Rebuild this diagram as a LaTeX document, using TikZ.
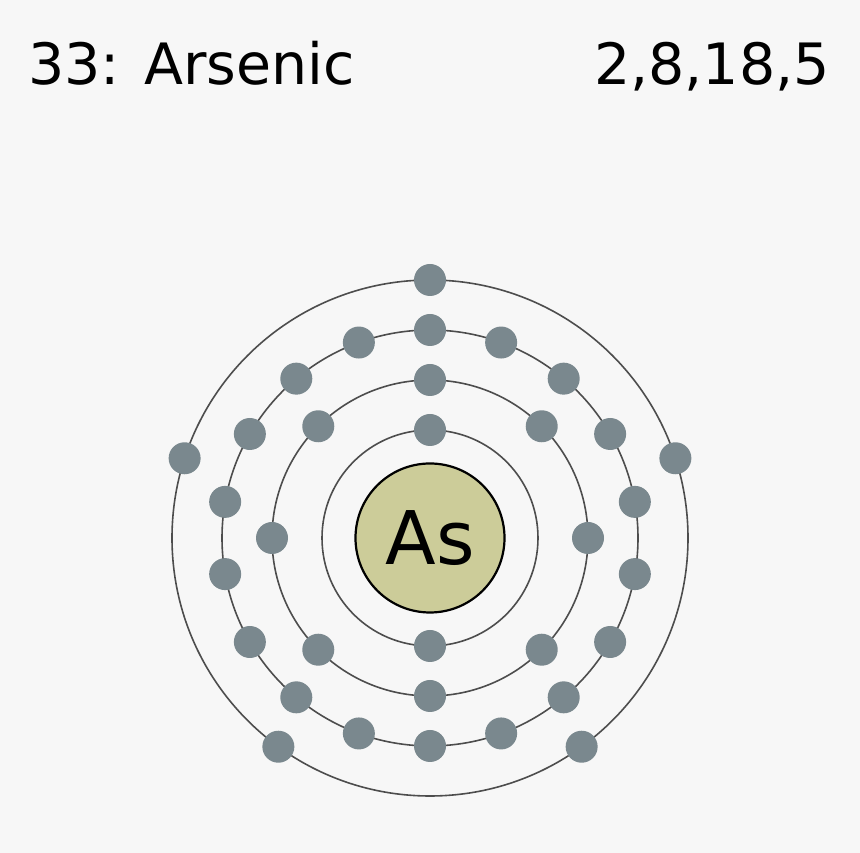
\documentclass[tikz,border=0pt]{standalone}
\usepackage{fontspec}
\setmainfont{DejaVu Sans}
\usetikzlibrary{calc}
\definecolor{bgcolor}{HTML}{F7F7F7}
\definecolor{shellcolor}{HTML}{4D4D4D}
\definecolor{electroncolor}{HTML}{7A888E}
\definecolor{nucleuscolor}{HTML}{CCCC99}
\tikzset{
  shell/.style={draw=shellcolor, line width=1.6pt},
  electron/.style={circle, fill=electroncolor, inner sep=0pt, minimum size=32pt},
  nucleus/.style={circle, draw=black, line width=2.2pt, fill=nucleuscolor, inner sep=0pt, minimum size=149pt,
                  font=\fontsize{74}{80}\selectfont},
  title/.style={inner sep=0pt, font=\fontsize{57}{68}\selectfont}
}

\begin{document}
\begin{tikzpicture}[x=1pt, y=1pt]
\fill[bgcolor] (0,0) rectangle (860,853);
\useasboundingbox (0,0) rectangle (860,853);

\node[title, anchor=base west]  (name)    at ( 28,768) {33: Arsenic};
\node[title, anchor=base east]  (config)  at (830,768) {2,8,18,5};

\coordinate (centre) at (430,315);

% shells
\draw[shell] (centre) circle (108);
\draw[shell] (centre) circle (158);
\draw[shell] (centre) circle (208);
\draw[shell] (centre) circle (258);

\node[nucleus] (nucleus) at (centre) {As};

% electrons: shell/radius/count
\foreach \s/\r/\n in {1/108/2, 2/158/8, 3/208/18, 4/258/5}{
  \foreach \k in {1,...,\n}{
    \node[electron] (e\s-\k) at ($(centre)+({90+360*(\k-1)/\n}:\r)$) {};
  }
}
\end{tikzpicture}
\end{document}
